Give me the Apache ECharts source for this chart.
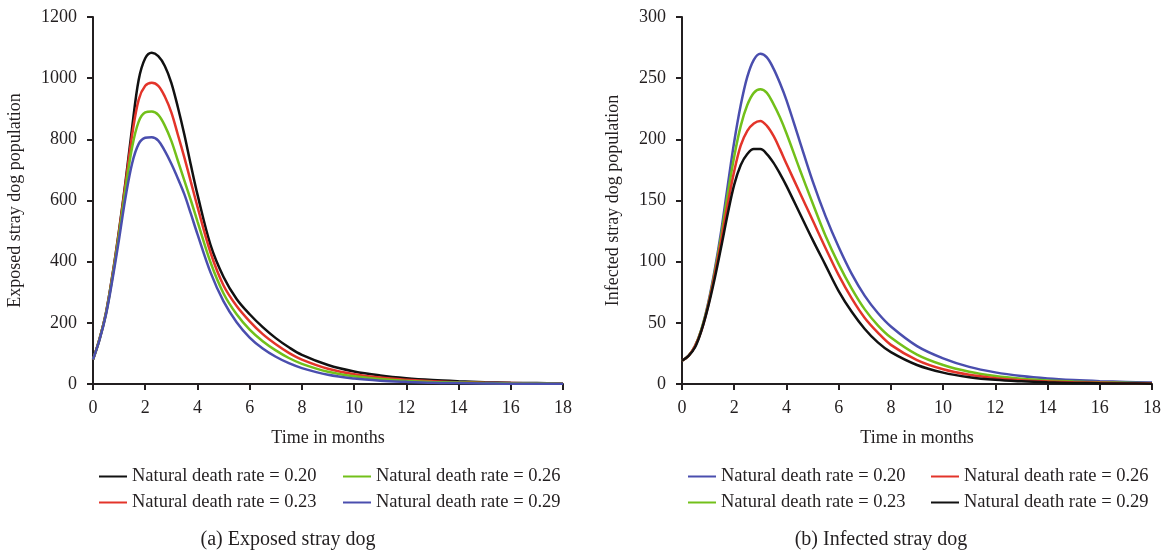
<!DOCTYPE html>
<html>
<head>
<meta charset="utf-8">
<script src="https://cdn.jsdelivr.net/npm/echarts@6/dist/echarts.min.js"></script>
<style>
  html, body { margin: 0; padding: 0; background: #fff; }
  #chart { width: 1164px; height: 553px; }
</style>
</head>
<body>
<div id="chart"></div>
<script>
// time points (months), shared by every curve
var months = [0, 0.25, 0.5, 0.75, 1, 1.25, 1.5, 1.75, 2, 2.25, 2.5, 2.75, 3, 3.25, 3.5, 3.75, 4,
              4.5, 5, 5.5, 6, 6.5, 7, 7.5, 8, 9, 10, 11, 12, 13, 14, 15, 16, 17, 18];

// (a) exposed stray dogs
var exposed020 = [80, 148, 235, 360, 505, 665, 840, 995, 1065, 1083, 1072, 1040, 985, 905, 815, 715, 620,
                  455, 350, 278, 228, 186, 150, 120, 95, 62, 41, 28, 19, 13, 9, 6, 4, 3, 2];
var exposed023 = [80, 147, 233, 357, 500, 658, 815, 930, 975, 985, 975, 940, 888, 815, 740, 660, 580,
                  430, 322, 255, 205, 163, 130, 102, 80, 50, 32, 21, 14, 9, 6, 4, 3, 2, 1.5];
var exposed026 = [80, 146, 231, 352, 490, 640, 775, 858, 888, 891, 880, 845, 795, 730, 665, 600, 532,
                  398, 296, 228, 178, 140, 110, 85, 66, 40, 25, 16, 10, 6.5, 4.5, 3, 2, 1.5, 1];
var exposed029 = [80, 144, 228, 344, 475, 612, 722, 785, 805, 807, 796, 762, 720, 672, 620, 556, 490,
                  365, 270, 202, 152, 116, 89, 68, 52, 30, 18, 11, 7, 4, 3, 2, 1, 1, 0.5];

// (b) infected stray dogs
var infected020 = [19, 23, 31, 45, 66, 93, 125, 162, 198, 228, 251, 265, 270, 267, 258, 246, 232,
                   199, 166, 137, 112, 90, 72, 58, 47, 31, 21, 14, 9.5, 6.5, 4.5, 3.2, 2.3, 1.7, 1.2];
var infected023 = [19, 23, 31, 45, 65, 91, 121, 155, 186, 211, 228, 238, 241, 238, 229, 218, 205,
                   176, 148, 121, 98, 78, 61, 48, 38, 24, 15.5, 10, 6.5, 4.3, 2.9, 2, 1.4, 1, 0.7];
var infected026 = [19, 23, 31, 44, 64, 89, 117, 147, 174, 195, 207, 213, 215, 211, 203, 192, 180,
                   157, 134, 111, 89, 70, 54, 42, 32, 19.5, 12, 7.5, 4.8, 3.1, 2, 1.4, 1, 0.7, 0.5];
var infected029 = [19, 23, 30, 44, 63, 86, 112, 139, 163, 179, 188, 192, 192, 188, 181, 172, 162,
                   140, 118, 97, 76, 59, 45, 34, 26, 15.5, 9.3, 5.6, 3.4, 2.2, 1.4, 0.9, 0.6, 0.4, 0.3];

var rateNames = ['Natural death rate = 0.20', 'Natural death rate = 0.23',
                 'Natural death rate = 0.26', 'Natural death rate = 0.29'];

var BLACK = '#111111', RED = '#e3342a', GREEN = '#72c01a', BLUE = '#4a4eae';
var INK = '#231f20';
var FONT = '"Liberation Serif", "DejaVu Serif", serif';

function pairs(vals) {
    return months.map(function (t, i) { return [t, vals[i]]; });
}

function lineSeries(name, vals, color, idx) {
    return {
        type: 'line',
        name: name,
        xAxisIndex: idx,
        yAxisIndex: idx,
        data: pairs(vals),
        showSymbol: false,
        symbol: 'none',
        smooth: 0.35,
        lineStyle: { color: color, width: 2.5 },
        itemStyle: { color: color },
        animation: false
    };
}

function xAxisOf(idx) {
    return {
        type: 'value',
        gridIndex: idx,
        min: 0, max: 18, interval: 2,
        name: 'Time in months',
        nameLocation: 'middle',
        nameGap: 45,
        nameTextStyle: { fontFamily: FONT, fontSize: 18, color: INK },
        axisLine: { show: true, onZero: false, lineStyle: { color: INK, width: 2 } },
        axisTick: { show: true, length: 6, lineStyle: { color: INK, width: 2 } },
        axisLabel: { margin: 15, fontFamily: FONT, fontSize: 18, color: INK },
        splitLine: { show: false }
    };
}

function yAxisOf(idx, max, interval, name, gap) {
    return {
        type: 'value',
        gridIndex: idx,
        min: 0, max: max, interval: interval,
        name: name,
        nameLocation: 'middle',
        nameGap: gap,
        nameTextStyle: { fontFamily: FONT, fontSize: 18, color: INK },
        axisLine: { show: true, lineStyle: { color: INK, width: 2 } },
        axisTick: { show: true, length: 6, lineStyle: { color: INK, width: 2 } },
        axisLabel: {
            margin: 16, fontFamily: FONT, fontSize: 18, color: INK,
            formatter: function (v) { return String(v); }
        },
        splitLine: { show: false }
    };
}

function legendOf(left, names) {
    return {
        orient: 'vertical',
        left: left,
        top: 462,
        itemWidth: 28,
        itemHeight: 2,
        itemGap: 7,
        icon: 'rect',
        selectedMode: false,
        data: names,
        textStyle: { fontFamily: FONT, fontSize: 18.5, color: INK }
    };
}

var chart = echarts.init(document.getElementById('chart'));
var option = {
    backgroundColor: '#ffffff',
    animation: false,
    grid: [
        { left: 93, top: 17, width: 470, height: 367 },
        { left: 682, top: 17, width: 470, height: 367 }
    ],
    xAxis: [xAxisOf(0), xAxisOf(1)],
    yAxis: [
        yAxisOf(0, 1200, 200, 'Exposed stray dog population', 69),
        yAxisOf(1, 300, 50, 'Infected stray dog population', 60)
    ],
    legend: [
        legendOf(94, [rateNames[0], rateNames[1]]),
        legendOf(338, [rateNames[2], rateNames[3]]),
        legendOf(683, [rateNames[0] + ' ', rateNames[1] + ' ']),
        legendOf(926, [rateNames[2] + ' ', rateNames[3] + ' '])
    ],
    series: [
        lineSeries(rateNames[0], exposed020, BLACK, 0),
        lineSeries(rateNames[1], exposed023, RED, 0),
        lineSeries(rateNames[2], exposed026, GREEN, 0),
        lineSeries(rateNames[3], exposed029, BLUE, 0),
        // right panel names carry a trailing space so its legend keeps its own colours
        lineSeries(rateNames[0] + ' ', infected020, BLUE, 1),
        lineSeries(rateNames[1] + ' ', infected023, GREEN, 1),
        lineSeries(rateNames[2] + ' ', infected026, RED, 1),
        lineSeries(rateNames[3] + ' ', infected029, BLACK, 1)
    ],
    graphic: [
        {
            type: 'text', x: 288, y: 540,
            style: { text: '(a) Exposed stray dog', fontFamily: FONT, fontSize: 20, fill: INK,
                     textAlign: 'center', textVerticalAlign: 'middle' }
        },
        {
            type: 'text', x: 881, y: 540,
            style: { text: '(b) Infected stray dog', fontFamily: FONT, fontSize: 20, fill: INK,
                     textAlign: 'center', textVerticalAlign: 'middle' }
        }
    ]
};
chart.setOption(option);
</script>
</body>
</html>
